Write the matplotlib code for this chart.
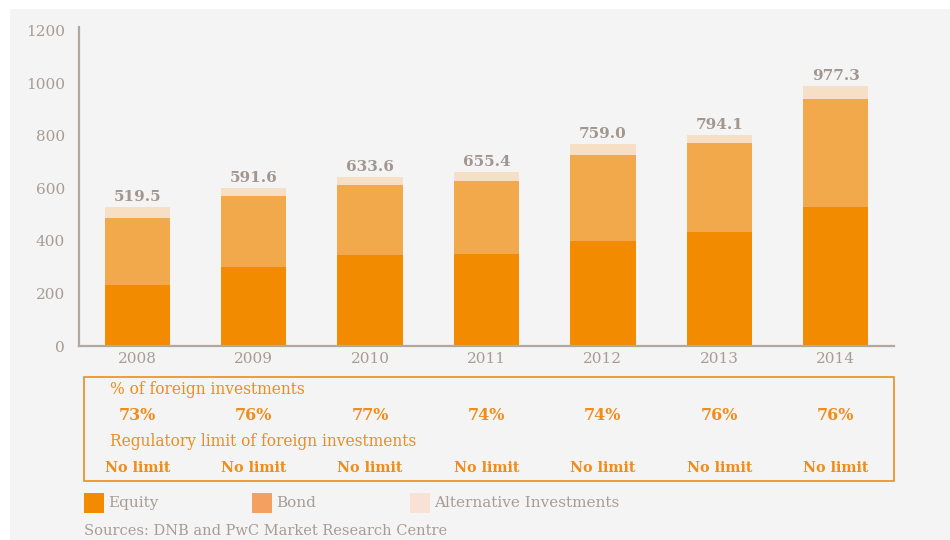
import matplotlib.pyplot as plt
import matplotlib.transforms as mtransforms
from matplotlib.patches import Rectangle
import numpy as np

plt.rcParams['font.family'] = ['DejaVu Serif']

# data (EUR bn)
years = ['2008', '2009', '2010', '2011', '2012', '2013', '2014']
equity = [234, 301, 347, 350, 400, 434, 530]
bond = [253, 270, 266, 279, 328, 339, 411]
alternative = [43, 31, 31, 34, 42, 31, 49]
total_labels = ['519.5', '591.6', '633.6', '655.4', '759.0', '794.1', '977.3']
foreign_pct = ['73%', '76%', '77%', '74%', '74%', '76%', '76%']
reg_limit = ['No limit'] * 7

c_equity = '#f28b00'
c_bond = '#f2a94b'
c_alt = '#f6dfc4'
c_text = '#a89c94'
c_orange = '#f08c1a'

W, H = 950, 540
fig = plt.figure(figsize=(W / 100, H / 100), dpi=100, facecolor='white')
# grey panel behind everything
fig.patches.append(Rectangle((10 / W, 0), 1 - 10 / W, 1 - 9 / H,
                             transform=fig.transFigure, facecolor='#f4f4f4',
                             edgecolor='none', zorder=-5))

ax = fig.add_axes([79 / W, 1 - 346 / H, (894 - 79) / W, (346 - 27) / H])
ax.set_facecolor('none')
ax.set_zorder(2)

x = np.arange(len(years))
w = 0.56
eq = np.array(equity)
bd = np.array(bond)
al = np.array(alternative)
ax.bar(x, eq, w, color=c_equity, zorder=2)
ax.bar(x, bd, w, bottom=eq, color=c_bond, zorder=2)
ax.bar(x, al, w, bottom=eq + bd, color=c_alt, zorder=2)

for xi, top, lab in zip(x, eq + bd + al, total_labels):
    ax.annotate(lab, (xi, top), xytext=(0, 2), textcoords='offset points',
                ha='center', va='bottom', fontsize=11, fontweight='bold',
                color='#a2968f')

ax.set_xlim(-0.5, 6.5)
ax.set_ylim(0, 1215)
ax.set_yticks(range(0, 1201, 200))
ax.set_xticks(x)
ax.set_xticklabels(years)
ax.tick_params(length=0, labelsize=11, labelcolor=c_text)
ax.tick_params(axis='y', pad=10)
ax.tick_params(axis='x', pad=4)
for s in ['top', 'right']:
    ax.spines[s].set_visible(False)
for s in ['left', 'bottom']:
    ax.spines[s].set_color('#b3a8a0')
    ax.spines[s].set_linewidth(1.6)

# box with foreign investment share and regulatory limit
fig.patches.append(Rectangle((84 / W, 1 - 481 / H), (894 - 84) / W, (481 - 377) / H,
                             transform=fig.transFigure, facecolor='none',
                             edgecolor=c_orange, linewidth=1.2, zorder=3))
tr = mtransforms.blended_transform_factory(ax.transData, fig.transFigure)
fig.text(110 / W, 1 - 389 / H, '% of foreign investments', color=c_orange,
         fontsize=11.2, va='center', ha='left')
fig.text(110 / W, 1 - 442 / H, 'Regulatory limit of foreign investments', color=c_orange,
         fontsize=11.2, va='center', ha='left')
for xi, p, r in zip(x, foreign_pct, reg_limit):
    fig.text(xi, 1 - 415 / H, p, transform=tr, color=c_orange, fontsize=11.5,
             fontweight='bold', ha='center', va='center')
    fig.text(xi, 1 - 468 / H, r, transform=tr, color=c_orange, fontsize=10.3,
             fontweight='bold', ha='center', va='center')

# legend
legend_items = [('Equity', '#f28b00', 84), ('Bond', '#f4a060', 252),
                ('Alternative Investments', '#fae1d5', 410)]
for name, col, px in legend_items:
    fig.patches.append(Rectangle((px / W, 1 - 513 / H), 20 / W, 20 / H,
                                 transform=fig.transFigure, facecolor=col,
                                 edgecolor='none'))
    fig.text((px + 24) / W, 1 - 503 / H, name, color=c_text, fontsize=11,
             va='center', ha='left')

fig.text(84 / W, 1 - 531 / H, 'Sources: DNB and PwC Market Research Centre',
         color=c_text, fontsize=10.5, va='center', ha='left')

fig.savefig('out.png', dpi=100, facecolor=fig.get_facecolor())
